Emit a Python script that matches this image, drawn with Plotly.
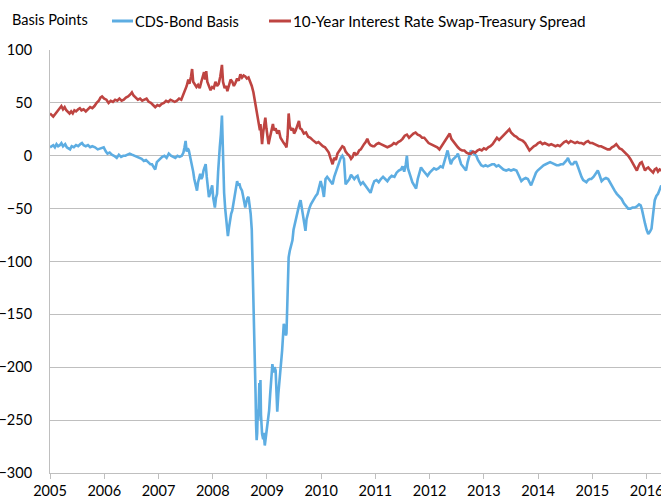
import plotly.graph_objects as go

# ---------------- data (decimal years, basis points) ----------------
swap_t = [2005.00,2005.03,2005.06,2005.09,2005.12,2005.15,2005.18,2005.21,2005.24,2005.27,2005.30,2005.33,2005.36,2005.39,2005.42,2005.45,2005.48,2005.52,2005.55,2005.58,2005.62,2005.66,2005.70,2005.74,2005.78,2005.82,2005.86,2005.90,2005.93,2005.96,
2006.00,2006.04,2006.08,2006.12,2006.16,2006.20,2006.24,2006.28,2006.32,2006.36,2006.40,2006.44,2006.48,2006.51,2006.54,2006.58,2006.62,2006.66,2006.70,2006.74,2006.78,2006.82,2006.86,2006.90,2006.94,2006.98,
2007.02,2007.06,2007.10,2007.14,2007.18,2007.22,2007.26,2007.30,2007.34,2007.38,2007.42,2007.46,2007.49,2007.52,2007.55,2007.57,2007.60,2007.62,2007.64,2007.67,2007.70,2007.73,2007.76,2007.79,2007.82,2007.84,2007.86,2007.88,2007.90,2007.93,2007.96,2007.99,
2008.02,2008.05,2008.08,2008.11,2008.14,2008.17,2008.19,2008.22,2008.25,2008.27,2008.30,2008.33,2008.36,2008.39,2008.42,2008.45,2008.48,2008.51,2008.54,2008.57,2008.60,2008.63,2008.66,2008.69,2008.72,2008.75,2008.77,2008.79,2008.81,2008.83,2008.85,2008.87,2008.88,2008.90,2008.91,2008.93,2008.95,2008.97,2008.99,
2009.01,2009.03,2009.05,2009.07,2009.09,2009.11,2009.13,2009.16,2009.19,2009.22,2009.25,2009.28,2009.31,2009.34,2009.36,2009.38,2009.40,2009.42,2009.45,2009.48,2009.50,2009.53,2009.56,2009.59,2009.61,2009.64,2009.68,2009.72,2009.76,2009.80,2009.84,2009.87,2009.91,2009.95,2009.99,
2010.03,2010.07,2010.11,2010.14,2010.17,2010.19,2010.21,2010.24,2010.27,2010.30,2010.33,2010.36,2010.39,2010.42,2010.45,2010.48,2010.52,2010.55,2010.58,2010.61,2010.64,2010.67,2010.70,2010.73,2010.76,2010.79,2010.82,2010.85,2010.88,2010.91,2010.95,2010.98,
2011.02,2011.06,2011.10,2011.14,2011.18,2011.22,2011.26,2011.30,2011.34,2011.38,2011.42,2011.46,2011.50,2011.54,2011.58,2011.62,2011.66,2011.70,2011.74,2011.78,2011.82,2011.86,2011.90,2011.94,2011.98,
2012.02,2012.06,2012.10,2012.14,2012.18,2012.22,2012.26,2012.30,2012.34,2012.37,2012.40,2012.44,2012.48,2012.52,2012.56,2012.60,2012.64,2012.68,2012.72,2012.76,2012.80,2012.84,2012.88,2012.92,2012.96,
2013.00,2013.04,2013.08,2013.12,2013.16,2013.20,2013.24,2013.28,2013.32,2013.36,2013.40,2013.44,2013.47,2013.50,2013.53,2013.56,2013.60,2013.64,2013.68,2013.72,2013.76,2013.80,2013.84,2013.88,2013.92,2013.96,
2014.00,2014.04,2014.08,2014.12,2014.16,2014.20,2014.24,2014.28,2014.32,2014.36,2014.40,2014.44,2014.48,2014.52,2014.56,2014.60,2014.64,2014.68,2014.72,2014.76,2014.80,2014.84,2014.88,2014.92,2014.96,
2015.00,2015.04,2015.08,2015.12,2015.16,2015.20,2015.24,2015.28,2015.32,2015.36,2015.40,2015.44,2015.47,2015.50,2015.54,2015.58,2015.62,2015.66,2015.70,2015.73,2015.76,2015.79,2015.82,2015.85,2015.88,2015.91,2015.94,2015.97,
2016.00,2016.03,2016.06,2016.09,2016.12,2016.15,2016.18,2016.21,2016.24,2016.27]
swap_v = [40,38,37,39,41,42,45,47,44,46,43,41,40,42,40,43,42,44,45,43,44,42,44,46,45,47,50,52,55,56,
54,53,50,52,51,53,52,54,52,53,55,56,58,60,57,55,53,54,52,53,54,51,50,48,46,48,
47,49,50,52,51,53,52,51,52,54,53,58,63,66,72,68,75,82,70,68,65,67,64,70,76,79,72,80,70,66,62,65,
64,70,66,68,75,86,70,64,66,61,68,72,70,66,69,73,71,77,74,76,75,73,74,70,66,60,54,50,42,38,28,24,30,18,11,22,30,36,26,
18,11,16,22,28,30,24,26,21,24,17,14,12,10,8,18,40,28,24,26,21,24,28,33,26,25,21,22,18,17,15,14,12,13,11,
9,8,5,3,-2,-6,-8,-2,-4,2,4,7,9,8,4,2,0,-3,-1,3,1,2,5,6,9,11,13,16,12,10,9,9,
11,12,11,10,9,8,9,10,12,11,13,14,16,19,20,17,19,21,22,20,19,17,17,14,12,
11,10,9,8,6,9,12,15,19,21,16,13,11,8,6,5,5,3,2,2,4,3,5,6,5,
7,6,8,9,11,14,17,15,17,19,21,23,25,22,20,19,18,16,15,14,12,9,5,7,9,10,
12,13,11,12,11,10,11,10,9,10,9,11,13,14,12,14,13,12,13,12,12,11,13,14,12,
12,11,10,9,9,8,7,6,6,8,9,11,9,7,6,4,2,0,-3,-6,-9,-12,-14,-10,-7,-6,-10,-14,
-12,-11,-13,-15,-16,-13,-12,-15,-13,-14]

cds_t = [2005.00,2005.03,2005.06,2005.09,2005.12,2005.15,2005.18,2005.21,2005.24,2005.28,2005.31,2005.34,2005.37,2005.40,2005.44,2005.48,2005.52,2005.56,2005.59,2005.62,2005.66,2005.70,2005.74,2005.78,2005.83,2005.88,2005.93,2005.99,
2006.03,2006.06,2006.10,2006.14,2006.18,2006.23,2006.27,2006.31,2006.35,2006.39,2006.43,2006.47,2006.51,2006.55,2006.59,2006.64,2006.69,2006.73,2006.77,2006.81,2006.85,2006.88,2006.91,2006.94,2006.97,
2007.00,2007.03,2007.07,2007.11,2007.15,2007.19,2007.23,2007.27,2007.31,2007.35,2007.39,2007.43,2007.46,2007.48,2007.50,2007.52,2007.54,2007.56,2007.58,2007.60,2007.62,2007.64,2007.66,2007.68,2007.70,2007.71,2007.73,2007.75,2007.77,2007.79,2007.81,2007.83,2007.85,2007.87,2007.89,2007.91,2007.93,2007.95,2007.97,2007.99,
2008.01,2008.03,2008.04,2008.06,2008.08,2008.10,2008.11,2008.13,2008.15,2008.17,2008.18,2008.19,2008.21,2008.23,2008.25,2008.27,2008.28,2008.30,2008.32,2008.34,2008.36,2008.38,2008.40,2008.42,2008.44,2008.45,2008.47,2008.49,2008.51,2008.54,2008.56,2008.58,2008.60,2008.62,2008.64,2008.66,2008.68,2008.70,2008.72,2008.73,2008.75,2008.76,2008.77,2008.78,2008.79,2008.80,2008.81,2008.82,2008.83,2008.84,2008.85,2008.86,2008.87,2008.88,2008.89,2008.90,2008.91,2008.93,2008.94,2008.96,2008.98,
2009.00,2009.02,2009.04,2009.06,2009.08,2009.10,2009.12,2009.14,2009.16,2009.17,2009.18,2009.19,2009.21,2009.23,2009.25,2009.27,2009.28,2009.30,2009.31,2009.33,2009.35,2009.36,2009.38,2009.40,2009.42,2009.44,2009.47,2009.49,2009.51,2009.53,2009.56,2009.58,2009.60,2009.62,2009.64,2009.66,2009.68,2009.71,2009.73,2009.75,2009.78,2009.81,2009.84,2009.87,2009.90,2009.93,2009.96,2009.99,
2010.02,2010.05,2010.08,2010.11,2010.14,2010.17,2010.21,2010.24,2010.27,2010.30,2010.33,2010.36,2010.39,2010.42,2010.45,2010.48,2010.52,2010.55,2010.58,2010.61,2010.64,2010.67,2010.70,2010.73,2010.77,2010.81,2010.85,2010.88,2010.91,2010.95,2010.98,
2011.02,2011.06,2011.10,2011.14,2011.18,2011.22,2011.26,2011.30,2011.35,2011.39,2011.43,2011.47,2011.50,2011.53,2011.56,2011.58,2011.60,2011.63,2011.65,2011.68,2011.71,2011.75,2011.78,2011.81,2011.84,2011.88,2011.92,2011.96,
2012.00,2012.04,2012.08,2012.12,2012.16,2012.20,2012.24,2012.28,2012.31,2012.33,2012.36,2012.39,2012.42,2012.46,2012.50,2012.52,2012.55,2012.58,2012.61,2012.64,2012.67,2012.70,2012.73,2012.76,2012.79,2012.82,2012.86,2012.89,2012.92,2012.95,2012.99,
2013.03,2013.07,2013.11,2013.15,2013.19,2013.23,2013.27,2013.32,2013.36,2013.41,2013.46,2013.50,2013.55,2013.60,2013.64,2013.69,2013.73,2013.77,2013.81,2013.84,2013.87,2013.90,2013.93,2013.96,2013.99,
2014.03,2014.06,2014.10,2014.14,2014.18,2014.22,2014.26,2014.30,2014.34,2014.38,2014.42,2014.46,2014.50,2014.53,2014.55,2014.58,2014.61,2014.64,2014.67,2014.70,2014.73,2014.76,2014.80,2014.83,2014.86,2014.89,2014.92,2014.95,2014.98,
2015.02,2015.06,2015.10,2015.13,2015.17,2015.21,2015.25,2015.29,2015.33,2015.37,2015.41,2015.45,2015.49,2015.54,2015.58,2015.62,2015.66,2015.70,2015.74,2015.78,2015.82,2015.86,2015.89,2015.91,2015.94,2015.97,
2016.00,2016.03,2016.06,2016.09,2016.12,2016.15,2016.18,2016.21,2016.24,2016.27]
cds_v = [8,9,10,8,11,9,10,12,9,11,8,7,6,9,8,10,9,11,12,10,9,10,8,9,8,6,7,8,
4,2,3,1,0,-2,1,-1,0,0,1,2,1,0,-1,-2,-3,-5,-4,-6,-8,-8,-11,-13,-6,
-4,-3,-1,0,-2,2,0,-1,-2,0,-1,0,3,8,14,4,7,5,0,-4,-8,-15,-22,-26,-30,-33,-25,-20,-17,-22,-20,-14,-10,-8,-20,-30,-39,-36,-32,-28,
-40,-46,-49,-40,-36,-15,-2,8,20,38,20,-10,-35,-50,-60,-70,-76,-68,-60,-55,-52,-45,-38,-30,-26,-24,-28,-26,-30,-33,-38,-44,-49,-44,-40,-39,-45,-55,-70,-90,-120,-146,-158,-190,-225,-255,-269,-262,-240,-250,-230,-215,-235,-212,-245,-258,-263,-268,-262,-274,-265,
-255,-250,-241,-225,-210,-197,-205,-200,-203,-215,-230,-242,-225,-210,-200,-190,-184,-170,-159,-162,-170,-168,-130,-96,-90,-85,-80,-70,-65,-60,-55,-50,-45,-42,-48,-52,-60,-71,-60,-55,-50,-46,-43,-40,-38,-36,-30,-24,
-30,-39,-22,-20,-22,-24,-27,-20,-15,-11,-5,-2,0,-3,-27,-25,-22,-18,-20,-22,-20,-19,-24,-27,-25,-28,-30,-33,-35,-28,-24,
-23,-25,-22,-20,-22,-24,-21,-19,-20,-16,-14,-13,-10,-15,-8,0,-12,-18,-20,-25,-28,-31,-22,-15,-11,-14,-17,-19,
-16,-14,-12,-13,-12,-10,-11,-4,2,5,-2,-8,-4,-2,0,2,-3,-8,-10,-12,-14,-6,0,5,3,2,0,-4,-7,-9,-10,
-9,-10,-9,-8,-8,-10,-9,-11,-13,-14,-13,-14,-13,-14,-18,-24,-22,-21,-22,-25,-28,-24,-20,-16,-14,
-12,-11,-9,-8,-7,-6,-7,-8,-9,-9,-8,-8,-6,-4,-2,-6,-8,-8,-6,-6,-10,-15,-20,-23,-24,-25,-23,-22,-22,
-20,-17,-14,-18,-24,-22,-21,-22,-26,-30,-33,-36,-38,-41,-45,-48,-50,-50,-49,-49,-48,-46,-47,-50,-58,-64,
-70,-74,-72,-69,-55,-42,-38,-36,-32,-28]

year_ticks = [2005, 2006, 2007, 2008, 2009, 2010, 2011, 2012, 2013, 2014, 2015, 2016]
y_ticks = [100, 50, 0, -50, -100, -150, -200, -250, -300]
series_names = ["CDS-Bond Basis", "10-Year Interest Rate Swap-Treasury Spread"]
y_title = "Basis Points"

BLUE = "#5DADE2"
RED = "#BE4441"
GRID = "#BFBFBF"
FONT = "Lato"
FS = 14.5

fig = go.Figure()
fig.add_trace(go.Scatter(x=cds_t, y=cds_v, mode="lines", name=series_names[0],
                         line=dict(color=BLUE, width=2.6), showlegend=False))
fig.add_trace(go.Scatter(x=swap_t, y=swap_v, mode="lines", name=series_names[1],
                         line=dict(color=RED, width=2.6), showlegend=False))

W, H = 661, 502
L, R, T, B = 50, 0, 50, 29
pw, ph = W - L - R, H - T - B

def px(x):  # screen x -> paper
    return (x - L) / pw

def py(y):  # screen y -> paper
    return (H - B - y) / ph

# legend drawn as line samples + real text
leg_y = py(21)
for (x0, x1, col, tx, name, fs) in [(112, 133, BLUE, 133, series_names[0], FS),
                                    (269, 291, RED, 291, series_names[1], 15.3)]:
    fig.add_shape(type="line", xref="paper", yref="paper", x0=px(x0), x1=px(x1),
                  y0=leg_y, y1=leg_y, line=dict(color=col, width=3))
    fig.add_annotation(xref="paper", yref="paper", x=px(tx), y=leg_y, text=name,
                       showarrow=False, xanchor="left", yanchor="middle",
                       font=dict(family=FONT, size=fs, color="#000000"))

fig.add_annotation(xref="paper", yref="paper", x=px(10), y=py(19), text=y_title,
                   showarrow=False, xanchor="left", yanchor="middle",
                   font=dict(family=FONT, size=FS, color="#000000"))

fig.update_layout(
    width=W, height=H,
    margin=dict(l=L, r=R, t=T, b=B, autoexpand=False),
    paper_bgcolor="white", plot_bgcolor="white",
    font=dict(family=FONT, size=FS, color="#000000"),
    xaxis=dict(range=[2005, 2016.265], tickvals=year_ticks, ticktext=[str(v) for v in year_ticks],
               showgrid=False, zeroline=False, showline=True, linecolor=GRID, linewidth=1,
               ticks="outside", ticklen=5, tickcolor=GRID, tickfont=dict(size=14.5),
               ticklabeloverflow="allow"),
    yaxis=dict(range=[-300, 100], tickvals=y_ticks, showgrid=True, gridcolor=GRID, gridwidth=1,
               zeroline=False, showline=True, linecolor=GRID, linewidth=1,
               ticks="", ticklabelstandoff=14, tickfont=dict(size=14.5)),
)

fig.write_html("out.html", config={"displayModeBar": False},
               post_script="document.body.style.margin='0px';")
